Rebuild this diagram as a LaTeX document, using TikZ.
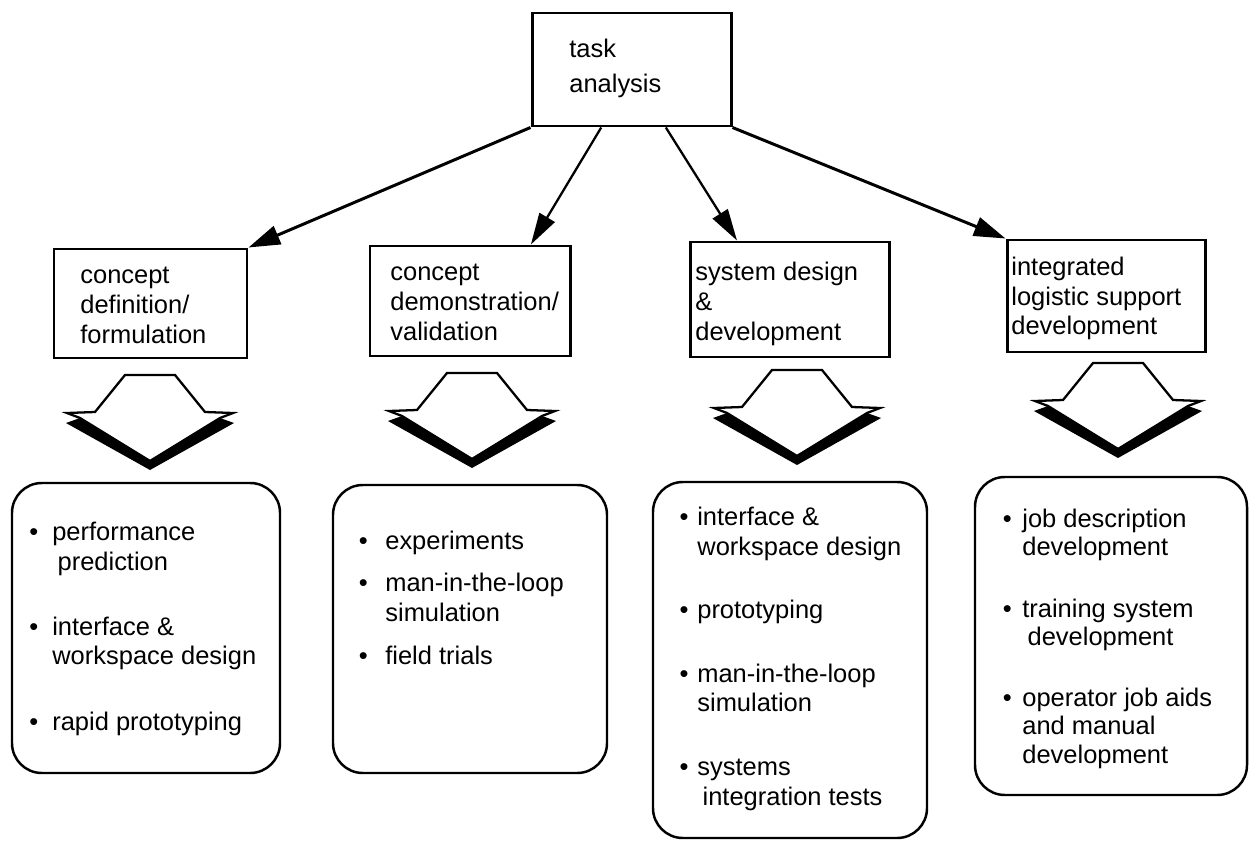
\documentclass[tikz,border=0pt]{standalone}
\usepackage{fontspec}
\setmainfont{Liberation Sans}
\usetikzlibrary{arrows.meta,calc,fit}

% bullet hanging to the left of the item text; #1 = gap between dot and text
\newcommand\bul[1]{\llap{\textbullet\hspace{#1}}}

% text nodes are placed by the baseline of their last line
\tikzset{
  label text/.style={font=\fontsize{14.5}{17}\selectfont, anchor=base west, align=left, inner sep=0pt},
  phasebox/.style={draw, line width=1.7pt, inner sep=0pt},
  listbox/.style={draw, line width=1.4pt, rounded corners=17pt, inner sep=0pt},
  flow/.style={line width=1.7pt, -{Triangle[length=18pt,width=11pt]}},
  thinflow/.style={line width=1.3pt, -{Triangle[length=18pt,width=10pt]}},
  droparrow/.pic={
    % shadowed lower edges of the block arrow
    \fill (-70,43) -- (-84,48) -- (0,95) -- (84,48) -- (70,43) -- (0,85) -- cycle;
    % outline of the block arrow
    \draw[line width=1.3pt, line join=miter]
      (-25,0) -- (25,0) -- (55,37) -- (83,38) -- (70,43) -- (0,86)
      -- (-70,43) -- (-83,38) -- (-55,37) -- cycle;
  }
}

\begin{document}
\begin{tikzpicture}[x=0.02cm, y=-0.02cm]
\useasboundingbox (0,0) rectangle (1253,844);

% top task analysis box
\node[phasebox, fit={(532,13) (731,126)}] (task) {};
\node[label text] (taskt) at (569,93) {task\\[3pt]analysis};

% four phase boxes
\node[phasebox, fit={(54,249) (247,358)}] (p1) {};
\node[phasebox, fit={(370,246) (570,356)}] (p2) {};
\node[phasebox, fit={(690,242) (889,357)}] (p3) {};
\node[phasebox, fit={(1007,240) (1205,352)}] (p4) {};

\node[label text] (p1t) at (80,343) {concept\\definition/\\formulation};
\node[label text] (p2t) at (390,340) {concept\\demonstration/\\validation};
\node[label text] (p3t) at (695,340) {system design\\\&\\development};
\node[label text] (p4t) at (1011,335) {integrated\\logistic support\\development};

% connectors from task analysis to the phases
\draw[flow] (task.south west) -- (p1.north east);
\draw[thinflow] ($(task.south west)!0.35!(task.south east)$) -- ($(p2.north west)!0.8!(p2.north east)$);
\draw[thinflow] ($(task.south west)!0.67!(task.south east)$) -- ($(p3.north west)!0.24!(p3.north east)$);
\draw[flow] (task.south east) -- (p4.north west);

% block arrows below each phase
\pic at (150,375) {droparrow};
\pic at (472,373) {droparrow};
\pic at (797,370) {droparrow};
\pic at (1118,363) {droparrow};

% activity lists
\node[listbox, fit={(12,483) (280,773)}] (l1) {};
\node[listbox, fit={(333,485) (607,773)}] (l2) {};
\node[listbox, fit={(653,482) (927,838)}] (l3) {};
\node[listbox, fit={(975,477) (1247,795)}] (l4) {};

\node[label text] (l1t) at (52,730) {\bul{8pt}performance\\\hspace{3pt}prediction\\[20pt]\bul{8pt}interface \&\\workspace design\\[20pt]\bul{8pt}rapid prototyping};
\node[label text] (l2t) at (385,664) {\bul{10pt}experiments\\[7pt]\bul{10pt}man-in-the-loop\\simulation\\[7pt]\bul{10pt}field trials};
\node[label text] (l3t) at (697,805) {\bul{5pt}interface \&\\workspace design\\[19pt]\bul{5pt}prototyping\\[19pt]\bul{5pt}man-in-the-loop\\simulation\\[19pt]\bul{5pt}systems\\\hspace{3pt}integration tests};
\node[label text, font=\fontsize{14.5}{16}\selectfont] (l4t) at (1022,763) {\bul{6pt}job description\\development\\[19pt]\bul{6pt}training system\\\hspace{3pt}development\\[19pt]\bul{6pt}operator job aids\\and manual\\development};
\end{tikzpicture}
\end{document}
